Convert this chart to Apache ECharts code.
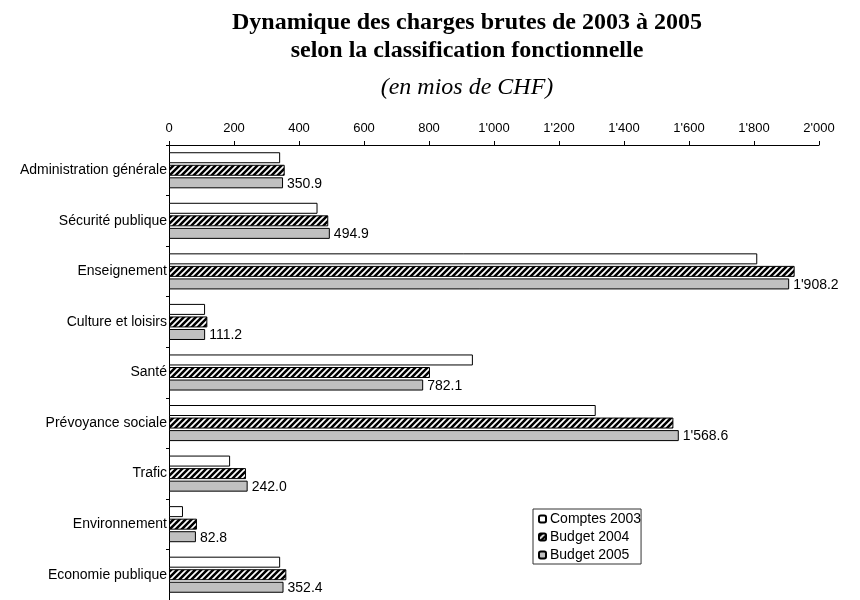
<!DOCTYPE html>
<html>
<head>
<meta charset="utf-8">
<script src="https://cdn.jsdelivr.net/npm/echarts@6/dist/echarts.min.js"></script>
<style>
  html, body { margin: 0; padding: 0; background: #fff; }
  #chart { width: 860px; height: 600px; }
</style>
</head>
<body>
<div id="chart"></div>
<script>
const categories = ['Administration générale', 'Sécurité publique', 'Enseignement', 'Culture et loisirs', 'Santé',
    'Prévoyance sociale', 'Trafic', 'Environnement', 'Economie publique'];
const seriesNames = ['Comptes 2003', 'Budget 2004', 'Budget 2005'];
const comptes2003 = [342, 457, 1810, 111, 935, 1313, 188, 43, 342];
const budget2004 = [356, 490, 1925, 118, 803, 1552, 237, 86, 361];
const budget2005 = [350.9, 494.9, 1908.2, 111.2, 782.1, 1568.6, 242.0, 82.8, 352.4];

// 1'908.2 style numbers
function fmt(v, dec) {
    let s = v.toFixed(dec);
    let parts = s.split('.');
    parts[0] = parts[0].replace(/\B(?=(\d{3})+(?!\d))/g, "'");
    return parts.join('.');
}

// hatch for budget 2004
function hatch() {
    const c = document.createElement('canvas');
    c.width = 6;
    c.height = 6;
    const ctx = c.getContext('2d');
    ctx.fillStyle = '#000';
    ctx.fillRect(0, 0, 6, 6);
    ctx.strokeStyle = '#fff';
    ctx.lineWidth = 1.7;
    ctx.beginPath();
    ctx.moveTo(-1, 7); ctx.lineTo(7, -1);
    ctx.moveTo(-4, 4); ctx.lineTo(4, -4);
    ctx.moveTo(2, 10); ctx.lineTo(10, 2);
    ctx.stroke();
    return c;
}

const font = 'Liberation Sans, Arial, sans-serif';
const serif = 'Liberation Serif, Times New Roman, serif';
const chart = echarts.init(document.getElementById('chart'));

const barBase = {
    type: 'bar',
    barWidth: 11,
    barGap: '14%',
    barCategoryGap: '30%',
    animation: false
};

chart.setOption({
    backgroundColor: '#fff',
    title: [{
        text: 'Dynamique des charges brutes de 2003 à 2005\nselon la classification fonctionnelle',
        left: 462,
        textAlign: 'center',
        top: 4,
        textStyle: {
            fontFamily: serif,
            fontWeight: 'bold',
            fontSize: 24,
            lineHeight: 28,
            color: '#000'
        }
    }, {
        text: '(en mios de CHF)',
        left: 462,
        textAlign: 'center',
        top: 71,
        textStyle: {
            fontFamily: serif,
            fontStyle: 'italic',
            fontWeight: 'normal',
            fontSize: 24,
            color: '#000'
        }
    }],
    legend: {
        orient: 'vertical',
        left: 533,
        top: 509,
        data: seriesNames,
        itemWidth: 7,
        itemHeight: 7,
        itemGap: 4,
        borderColor: '#333',
        borderWidth: 1,
        borderRadius: 0,
        padding: [3, 0, 2, 5],
        textStyle: { fontFamily: font, fontSize: 14, color: '#000', padding: [0, 0, 0, -1] }
    },
    grid: {
        left: 169,
        right: 41,
        top: 145,
        bottom: 0
    },
    xAxis: {
        type: 'value',
        position: 'top',
        min: 0,
        max: 2000,
        interval: 200,
        splitLine: { show: false },
        axisLine: { show: true, lineStyle: { color: '#000', width: 1 } },
        axisTick: { show: true, length: 4, lineStyle: { color: '#000' } },
        axisLabel: {
            color: '#000',
            fontFamily: font,
            fontSize: 13,
            margin: 10,
            formatter: v => fmt(v, 0)
        }
    },
    yAxis: {
        type: 'category',
        inverse: true,
        data: categories,
        axisLine: { show: true, lineStyle: { color: '#000', width: 1 } },
        axisTick: { show: true, length: 3, lineStyle: { color: '#000' } },
        axisLabel: {
            color: '#000',
            fontFamily: font,
            fontSize: 14,
            margin: 2
        }
    },
    series: [
        Object.assign({}, barBase, {
            name: seriesNames[0],
            data: comptes2003,
            itemStyle: { color: '#fff', borderColor: '#000', borderWidth: 1 }
        }),
        Object.assign({}, barBase, {
            name: seriesNames[1],
            data: budget2004,
            itemStyle: { color: { image: hatch(), repeat: 'repeat' }, borderColor: '#000', borderWidth: 1 }
        }),
        Object.assign({}, barBase, {
            name: seriesNames[2],
            data: budget2005,
            itemStyle: { color: '#c0c0c0', borderColor: '#000', borderWidth: 1 },
            label: {
                show: true,
                position: 'right',
                distance: 4,
                offset: [0, 1],
                color: '#000',
                fontFamily: font,
                fontSize: 14,
                formatter: p => fmt(p.value, 1)
            }
        })
    ]
});
</script>
</body>
</html>
